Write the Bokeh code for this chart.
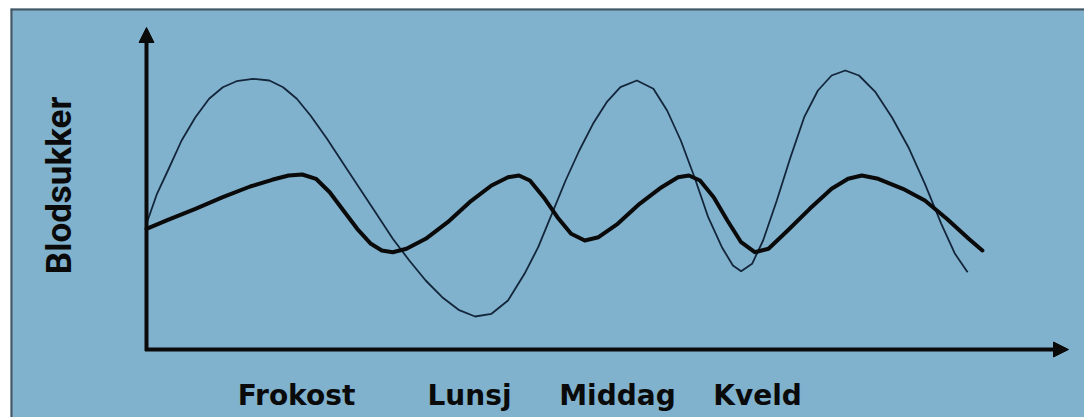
import math
from bokeh.plotting import figure
from bokeh.models import Range1d, Arrow, NormalHead
from bokeh.core.properties import value
from bokeh.embed import file_html
from bokeh.resources import INLINE

# ---- data (schematic: time of day vs blood sugar, arbitrary units) ----
thin_t = [0, 1.05, 2.14, 3.51, 4.89, 6.26, 7.63, 9.0, 10.64, 12.29, 13.66, 15.03,
          16.4, 18.05, 19.69, 21.34, 22.99, 24.63, 26.28, 27.92, 29.57, 31.21, 32.86,
          34.5, 36.15, 37.8, 39.17, 40.54, 41.91, 43.28, 44.65, 46.02, 47.39, 49.04,
          50.69, 52.06, 53.43, 54.8, 56.17, 57.54, 58.64, 59.46, 60.56, 61.66, 63.03,
          64.4, 65.77, 67.14, 68.51, 69.88, 71.25, 72.9, 74.54, 76.19, 77.84, 79.48,
          80.85, 82.11]
thin_bs = [12.57, 15.57, 17.9, 20.9, 23.23, 25.07, 26.23, 26.83, 27.07, 26.9, 26.23, 25.07,
           23.4, 21.07, 18.57, 16.07, 13.57, 11.07, 8.9, 6.9, 5.23, 3.97, 3.3,
           3.57, 4.9, 7.57, 10.23, 13.57, 16.9, 19.9, 22.57, 24.73, 26.23, 26.9,
           26.07, 23.9, 20.9, 17.23, 13.23, 10.23, 8.4, 7.83, 8.57, 10.9, 14.9,
           19.23, 23.23, 25.9, 27.4, 27.9, 27.4, 25.73, 23.23, 20.23, 16.57, 12.57,
           9.57, 7.73]

thick_t = [0, 2.14, 4.89, 7.63, 10.37, 12.56, 14.21, 15.58, 16.95, 18.32, 19.69, 21.07,
           22.44, 23.53, 24.63, 26.0, 27.92, 30.12, 32.31, 34.5, 36.15, 37.25, 38.34,
           39.71, 41.09, 42.46, 43.83, 45.2, 47.12, 49.31, 51.51, 53.15, 54.25, 55.35,
           56.72, 58.09, 59.46, 60.83, 62.2, 64.12, 66.32, 68.51, 70.16, 71.53, 73.17,
           75.64, 77.84, 80.03, 82.22, 83.59]
thick_bs = [12.07, 12.97, 14.07, 15.23, 16.3, 16.97, 17.4, 17.5, 17.07, 15.73, 13.9, 12.07,
            10.57, 9.9, 9.73, 10.07, 11.07, 12.73, 14.73, 16.4, 17.23, 17.4, 16.9,
            15.23, 13.23, 11.57, 10.9, 11.23, 12.57, 14.57, 16.23, 17.23, 17.4, 16.9,
            15.23, 12.9, 10.73, 9.73, 10.07, 11.9, 14.07, 16.07, 17.07, 17.4, 17.07,
            16.07, 14.9, 13.07, 11.07, 9.9]

meals = ["Frokost", "Lunsj", "Middag", "Kveld"]
meal_t = [15.0, 32.3, 47.1, 61.1]
y_title = "Blodsukker"

# ---- figure ----
BG = "#80b1cd"
X0, X1 = -13.6, 93.8
Y0, Y1 = -6.8, 34.1
p = figure(width=1084, height=417, output_backend="svg", toolbar_location=None,
           x_range=Range1d(X0, X1), y_range=Range1d(Y0, Y1),
           x_axis_location=None, y_axis_location=None,
           min_border_left=10, min_border_right=0, min_border_top=8, min_border_bottom=0)
p.background_fill_color = BG
p.border_fill_color = "white"
p.outline_line_color = None
p.grid.visible = False

# frame border (top and left only, as in the reference)
p.segment(x0=[X0, X0], y0=[Y1, Y0], x1=[X1, X0], y1=[Y1, Y1],
          line_color="#465560", line_width=4)

# curves
p.line(thin_t, thin_bs, line_color="#13263a", line_width=1.8, line_join="round")
p.line(thick_t, thick_bs, line_color="#0a0a0a", line_width=4, line_join="round",
       line_cap="round")

# axes arrows
p.add_layout(Arrow(end=NormalHead(size=15, fill_color="#0a0a0a", line_color="#0a0a0a"),
                   x_start=-0.15, y_start=0, x_end=92.2, y_end=0,
                   line_width=4, line_color="#0a0a0a"))
p.add_layout(Arrow(end=NormalHead(size=15, fill_color="#0a0a0a", line_color="#0a0a0a"),
                   x_start=0, y_start=-0.15, x_end=0, y_end=32.2,
                   line_width=4, line_color="#0a0a0a"))

# category labels
p.text(x=meal_t, y=[-4.6] * len(meals), text=meals,
       text_font=value("DejaVu Sans"), text_font_style="bold",
       text_font_size="28px", text_align="center", text_baseline="middle",
       text_color="#0a0a0a")

# y title
p.text(x=[-8.7], y=[16.4], text=[y_title], angle=math.pi / 2,
       text_font=value("Roboto"), text_font_style="bold",
       text_font_size="35px", text_align="center", text_baseline="middle",
       text_color="#0a0a0a")

open("out.html", "w").write(file_html(p, INLINE))
